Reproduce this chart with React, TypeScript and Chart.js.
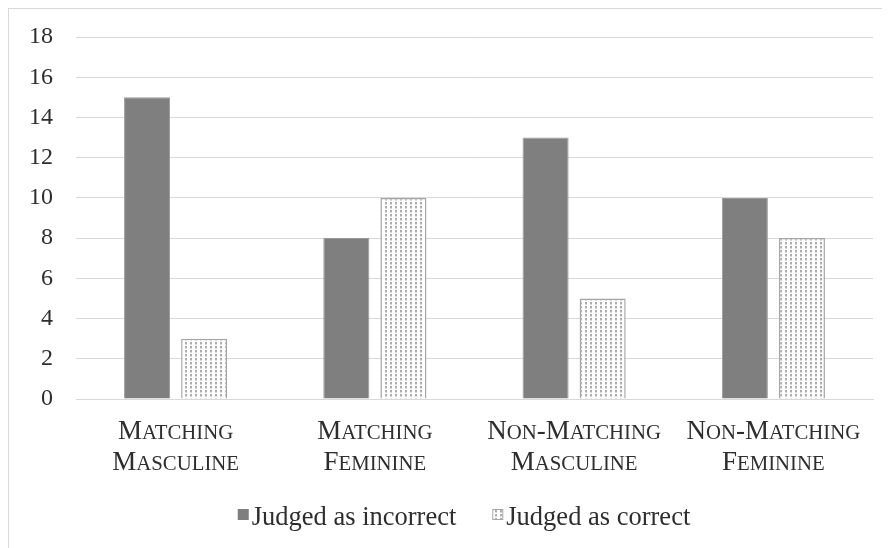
import React, { useEffect, useRef } from 'react';
import { Chart, registerables } from 'chart.js';

Chart.register(...registerables);

// Chart data
const categories: string[][] = [
  ['Matching', 'Masculine'],
  ['Matching', 'Feminine'],
  ['Non-Matching', 'Masculine'],
  ['Non-Matching', 'Feminine'],
];
const judgedIncorrect: number[] = [15, 8, 13, 10];
const judgedCorrect: number[] = [3, 10, 5, 8];
const seriesNames: string[] = ['Judged as incorrect', 'Judged as correct'];
const yMax = 18;
const yStep = 2;

const FONT = "'Liberation Serif', 'Times New Roman', serif";
const TEXT = '#2e2e2e';
const GRID = '#d9d9d9';
const DARK = '#7f7f7f';
const DOT_EDGE = '#a6a6a6';

const CAT_SIZE = 27;
const CAT_SMALL = 0.77;
const LEGEND_SIZE = 26.5;

// Small dotted fill used for the second series
function makeDotPattern(ctx: CanvasRenderingContext2D): CanvasPattern {
  const c = document.createElement('canvas');
  c.width = 5;
  c.height = 4;
  const g = c.getContext('2d')!;
  g.fillStyle = '#ffffff';
  g.fillRect(0, 0, 5, 4);
  g.fillStyle = '#acacac';
  g.fillRect(1, 1, 2, 2);
  g.fillStyle = '#dadada';
  g.fillRect(1, 3, 2, 1);
  return ctx.createPattern(c, 'repeat')!;
}

// Split a word into runs: capitals stay full size, lower case becomes small capitals
function smallCapRuns(word: string): { text: string; small: boolean }[] {
  const runs: { text: string; small: boolean }[] = [];
  for (const ch of word) {
    const small = ch !== ch.toUpperCase();
    const t = small ? ch.toUpperCase() : ch;
    const last = runs[runs.length - 1];
    if (last && last.small === small) last.text += t;
    else runs.push({ text: t, small });
  }
  return runs;
}

function drawSmallCaps(c: CanvasRenderingContext2D, word: string, cx: number, baseline: number) {
  const runs = smallCapRuns(word);
  const fontFor = (small: boolean) => `${small ? CAT_SIZE * CAT_SMALL : CAT_SIZE}px ${FONT}`;
  let total = 0;
  const widths = runs.map((r) => {
    c.font = fontFor(r.small);
    const w = c.measureText(r.text).width;
    total += w;
    return w;
  });
  let x = cx - total / 2;
  runs.forEach((r, i) => {
    c.font = fontFor(r.small);
    c.fillText(r.text, x, baseline);
    x += widths[i];
  });
}

export default function App() {
  const canvasRef = useRef<HTMLCanvasElement | null>(null);

  useEffect(() => {
    const canvas = canvasRef.current;
    if (!canvas) return;
    const ctx = canvas.getContext('2d')!;
    const dots = makeDotPattern(ctx);

    // Category labels in small capitals, centred on each category of the x scale
    const categoryLabels = {
      id: 'categoryLabels',
      afterDraw(chart: Chart) {
        const c = chart.ctx;
        const xs = chart.scales.x;
        const bottom = chart.chartArea.bottom;
        c.save();
        c.fillStyle = TEXT;
        c.textAlign = 'left';
        c.textBaseline = 'alphabetic';
        categories.forEach((lines, i) => {
          const cx = xs.getPixelForValue(i);
          lines.forEach((line, j) => {
            drawSmallCaps(c, line, cx, bottom + 40 + j * 31);
          });
        });
        c.restore();
      },
    };

    // Legend drawn below the axis: square swatch, tight gap, label
    const legendPlugin = {
      id: 'bottomLegend',
      afterDraw(chart: Chart) {
        const c = chart.ctx;
        c.save();
        c.font = `${LEGEND_SIZE}px ${FONT}`;
        c.textBaseline = 'alphabetic';
        c.textAlign = 'left';
        const box = 11;
        const gap = 3;
        const itemGap = 36;
        const widths = seriesNames.map((n) => c.measureText(n).width);
        const total = widths.reduce((a, w) => a + box + gap + w, 0) + itemGap * (seriesNames.length - 1);
        let x = 455 - total / 2;
        const baseY = 516;
        const boxTop = 500;
        seriesNames.forEach((name, i) => {
          if (i === 0) {
            c.fillStyle = DARK;
            c.fillRect(x, boxTop, box, box);
          } else {
            c.fillStyle = dots;
            c.fillRect(x, boxTop, box, box);
            c.strokeStyle = DOT_EDGE;
            c.lineWidth = 1;
            c.strokeRect(x + 0.5, boxTop + 0.5, box - 1, box - 1);
          }
          c.fillStyle = TEXT;
          c.fillText(name, x + box + gap, baseY);
          x += box + gap + widths[i] + itemGap;
        });
        c.restore();
      },
    };

    const chart = new Chart(canvas, {
      type: 'bar',
      data: {
        labels: categories,
        datasets: [
          {
            label: seriesNames[0],
            data: judgedIncorrect,
            backgroundColor: DARK,
            borderColor: '#999999',
            borderWidth: 1,
            barPercentage: 0.807,
            categoryPercentage: 0.573,
          },
          {
            label: seriesNames[1],
            data: judgedCorrect,
            backgroundColor: dots,
            borderColor: DOT_EDGE,
            borderWidth: 1.5,
            barPercentage: 0.807,
            categoryPercentage: 0.573,
          },
        ],
      },
      options: {
        responsive: false,
        animation: false,
        layout: { padding: { top: 28, right: 17, bottom: 0, left: 0 } },
        plugins: {
          legend: { display: false },
          tooltip: { enabled: false },
        },
        scales: {
          x: {
            grid: { display: false, drawTicks: false },
            border: { display: true, color: GRID, width: 1 },
            ticks: { display: false },
            afterFit(scale: any) {
              scale.height = 149;
              scale.paddingLeft = 0;
              scale.paddingRight = 0;
            },
          },
          y: {
            min: 0,
            max: yMax,
            grid: { color: GRID, lineWidth: 1, drawTicks: false },
            border: { display: false },
            ticks: {
              stepSize: yStep,
              color: TEXT,
              padding: 23,
              font: { family: FONT, size: 24 },
            },
            afterFit(scale: any) {
              scale.width = 67;
              scale.paddingTop = 0;
              scale.paddingBottom = 0;
            },
          },
        },
      },
      plugins: [categoryLabels, legendPlugin],
    });

    return () => chart.destroy();
  }, []);

  return (
    <div
      style={{
        position: 'relative',
        width: 881,
        height: 539,
        borderLeft: `1px solid ${GRID}`,
        borderTop: `1px solid ${GRID}`,
        background: '#ffffff',
      }}
    >
      <canvas ref={canvasRef} width={881} height={539} style={{ display: 'block' }} />
    </div>
  );
}
